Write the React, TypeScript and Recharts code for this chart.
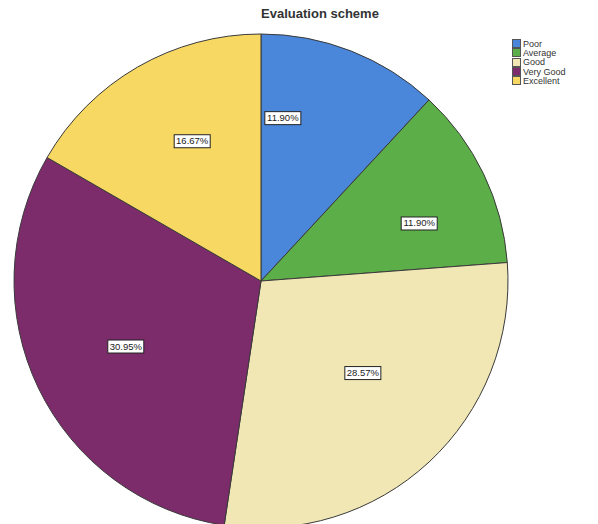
import { PieChart, Pie, Cell, Legend } from 'recharts'

const categories = ['Poor', 'Average', 'Good', 'Very Good', 'Excellent']
const counts = [5, 5, 12, 13, 7]
const percentLabels = ['11.90%', '11.90%', '28.57%', '30.95%', '16.67%']
const colors = ['#4a86da', '#5cae48', '#f1e7b4', '#7c2c6b', '#f7d862']

const data = categories.map((name, i) => ({ name, value: counts[i], label: percentLabels[i] }))

// small nudges so the boxed labels sit where the original put them
const labelNudge = [
  [-35, -18],
  [18, 10],
  [-4, -22],
  [5, -2],
  [9, -5],
]

const RAD = Math.PI / 180

const renderLabel = (props: any) => {
  const { cx, cy, midAngle, outerRadius, index } = props
  const r = outerRadius * 0.63
  const x = cx + r * Math.cos(-midAngle * RAD) + labelNudge[index][0]
  const y = cy + r * Math.sin(-midAngle * RAD) + labelNudge[index][1]
  const w = 36
  const h = 13
  return (
    <g>
      <rect x={x - w / 2} y={y - h / 2} width={w} height={h} fill="#fff" stroke="#222" strokeWidth={1} />
      <text
        x={x}
        y={y + 0.5}
        textAnchor="middle"
        dominantBaseline="middle"
        fontSize={9.5}
        fontFamily="Liberation Sans, Arial, sans-serif"
        fill="#222"
      >
        {data[index].label}
      </text>
    </g>
  )
}

const renderLegend = () => (
  <div style={{ fontFamily: 'Liberation Sans, Arial, sans-serif', fontSize: 9, color: '#333' }}>
    {data.map((d, i) => (
      <div key={d.name} style={{ display: 'flex', alignItems: 'center', height: 9.3 }}>
        <span
          style={{
            display: 'inline-block',
            width: 7,
            height: 7,
            background: colors[i],
            border: '1px solid #555',
            marginRight: 2,
          }}
        />
        {d.name}
      </div>
    ))}
  </div>
)

export default function App() {
  return (
    <div style={{ position: 'fixed', left: 0, top: 0, width: 598, height: 524, background: '#fff' }}>
      <PieChart width={598} height={524}>
        <text
          x={320}
          y={15}
          textAnchor="middle"
          dominantBaseline="middle"
          fontSize={13}
          fontWeight="bold"
          fontFamily="Liberation Sans, Arial, sans-serif"
          fill="#333"
        >
          Evaluation scheme
        </text>
        <Pie
          data={data}
          dataKey="value"
          nameKey="name"
          cx={256}
          cy={276}
          outerRadius={247}
          startAngle={90}
          endAngle={-270}
          stroke="#3a3a3a"
          strokeWidth={1}
          label={renderLabel}
          labelLine={false}
          isAnimationActive={false}
        >
          {data.map((d, i) => (
            <Cell key={d.name} fill={colors[i]} />
          ))}
        </Pie>
        <Legend
          content={renderLegend}
          layout="vertical"
          verticalAlign="top"
          align="right"
          wrapperStyle={{ position: 'absolute', left: 512, top: 39, width: 80 }}
        />
      </PieChart>
    </div>
  )
}
